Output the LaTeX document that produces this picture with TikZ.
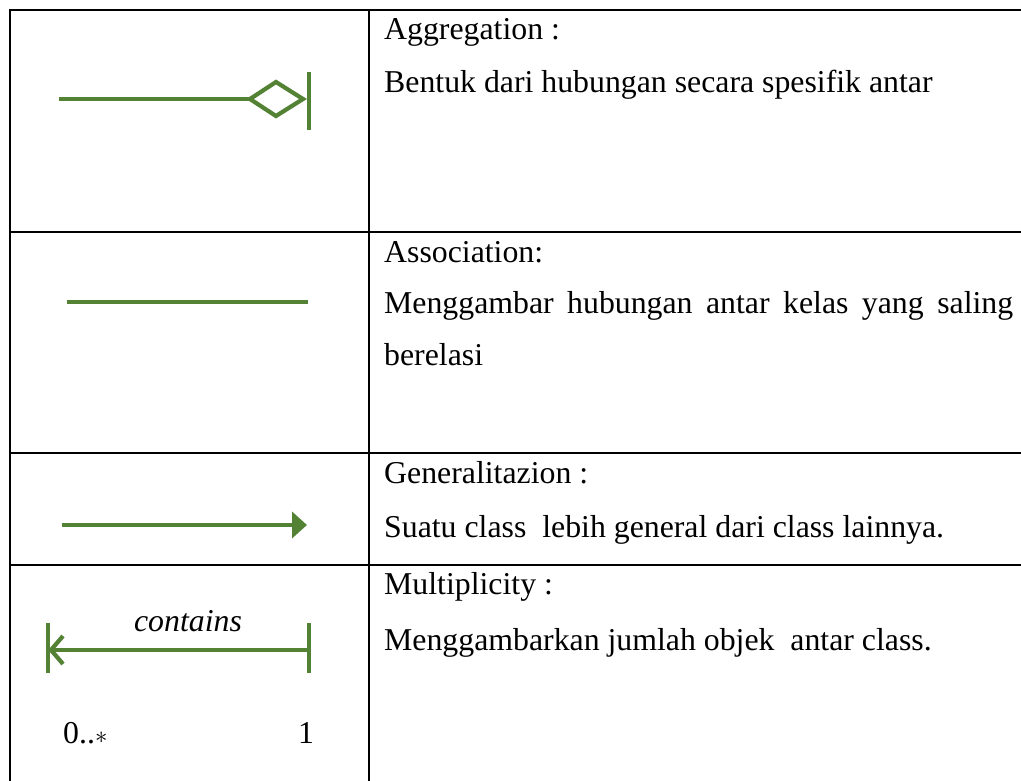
\documentclass[tikz,border=0pt]{standalone}
\usepackage{fontspec}
\setmainfont{Liberation Serif}
\usetikzlibrary{arrows.meta}
\definecolor{umlgreen}{RGB}{84,130,53}
\begin{document}
\begin{tikzpicture}[x=1pt,y=-1pt,
  rule/.style={line width=2pt,black},
  sym/.style={line width=4.2pt,umlgreen,line cap=butt},
  txt/.style={anchor=base west,inner sep=0pt,font=\fontsize{31.8}{40}\selectfont},
  lbl/.style={anchor=base,inner sep=0pt,font=\fontsize{31.8}{40}\selectfont},
]
\useasboundingbox (0,0) rectangle (1021,780);
\fill[white] (0,0) rectangle (1021,780);

% table rules
\draw[rule] (1021,10) -- (10,10) -- (10,782);
\draw[rule] (369,10) -- (369,782);
\foreach \y in {232,453,565} \draw[rule] (10,\y) -- (1021,\y);

% descriptions (right column)
\node[txt] (aggT)  at (384,39)  {Aggregation :};
\node[txt] (aggD)  at (384,92)  {Bentuk dari hubungan secara spesifik antar};
\node[txt] (assT)  at (384,262) {Association:};
\node[txt] (assD1) at (384,313) {\makebox[629pt][s]{Menggambar hubungan antar kelas yang saling}};
\node[txt] (assD2) at (384,365) {berelasi};
\node[txt] (genT)  at (384,483) {Generalitazion :};
\node[txt] (genD)  at (384,537) {Suatu class\ \ lebih general dari class lainnya.};
\node[txt] (mulT)  at (384,594) {Multiplicity :};
\node[txt] (mulD)  at (384,650) {Menggambarkan jumlah objek\ \ antar class.};

% aggregation symbol
\coordinate (a0) at (59,99);
\coordinate (a1) at (250,99);
\coordinate (aT) at (276,82);
\coordinate (aR) at (303,99);
\coordinate (aB) at (276,116);
\draw[sym] (a0) -- (a1);
\draw[sym,miter limit=10] (a1) -- (aT) -- (aR) -- (aB) -- cycle;
\draw[sym] (309,72) -- (309,130);

% association symbol
\coordinate (s0) at (67,302);
\coordinate (s1) at (308,302);
\draw[sym] (s0) -- (s1);

% generalization symbol
\coordinate (g0) at (62,525);
\coordinate (g1) at (307,525);
\draw[sym,-{Triangle[length=15pt,width=26pt]}] (g0) -- (g1);

% multiplicity symbol
\coordinate (m0) at (48,650);
\coordinate (m1) at (309,650);
\draw[sym] (m0) -- (m1);
\draw[sym] (48,623) -- (48,673);
\draw[sym] (309,623) -- (309,673);
\draw[sym,line join=miter] (63,636) -- (51,650) -- (63,664);
\node[lbl,font=\fontsize{31.8}{40}\selectfont\itshape] (contains) at (188,631) {contains};
\node[txt] (many) at (63,743) {0..$\ast$};
\node[lbl] (one) at (306,743) {1};
\end{tikzpicture}
\end{document}
